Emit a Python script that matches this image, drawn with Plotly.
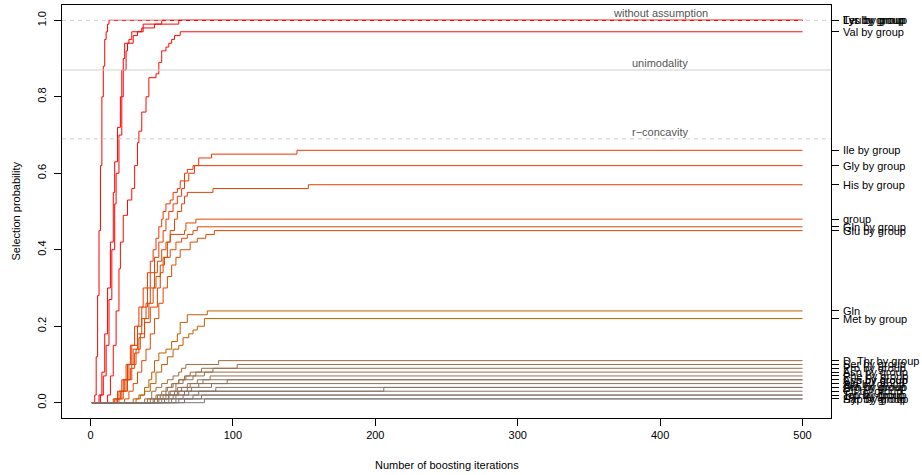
import math
import plotly.graph_objects as go

# ---------------- data ----------------
# each path: list of (iteration, selection probability) at which the value changes
labels = [
    "Leu by group", "Lys by group", "Tyr by group", "Val by group",
    "Ile by group", "Gly by group", "His by group", "group",
    "Gln by group", "Glu by group", "Gln", "Met by group",
    "D_Thr by group", "Ser by group", "Pro by group", "Asn by group",
    "Phe by group", "Asp by group", "Cys by group", "Ala by group",
    "Orn by group", "Arg by group", "Cit by group", "Tau by group",
    "Trp by group", "Hyp by group", "Sar by group",
]

path_leu = [(1, 0), (3, 0.02), (4, 0.12), (5, 0.28), (6, 0.45), (7, 0.62), (8, 0.8),
            (9, 0.88), (10, 0.95), (11, 0.97), (12, 0.99), (13, 1.0)]
path_lys = [(1, 0), (6, 0.02), (8, 0.08), (10, 0.18), (12, 0.3), (14, 0.42), (16, 0.55),
            (17, 0.63), (19, 0.72), (21, 0.8), (22, 0.87), (23, 0.9), (24, 0.94),
            (27, 0.95), (29, 0.97), (36, 0.98), (37, 0.99), (50, 1.0)]
path_tyr = [(1, 0), (7, 0.02), (9, 0.07), (11, 0.15), (13, 0.27), (15, 0.4), (17, 0.52),
            (18, 0.6), (20, 0.7), (22, 0.8), (23, 0.87), (25, 0.92), (26, 0.94),
            (30, 0.96), (33, 0.97), (37, 0.98), (45, 0.99), (62, 1.0)]
path_val = [(1, 0), (12, 0.02), (14, 0.07), (16, 0.15), (18, 0.24), (20, 0.35),
            (21, 0.42), (23, 0.49), (26, 0.53), (29, 0.56), (31, 0.62), (33, 0.68),
            (34, 0.71), (36, 0.76), (39, 0.8), (41, 0.85), (46, 0.86), (48, 0.89),
            (50, 0.92), (53, 0.93), (55, 0.94), (57, 0.95), (59, 0.96), (63, 0.97)]
path_ile = [(1, 0), (16, 0.01), (19, 0.03), (22, 0.06), (25, 0.1), (28, 0.15), (31, 0.2),
            (34, 0.25), (37, 0.3), (40, 0.34), (42, 0.37), (44, 0.4), (46, 0.43),
            (48, 0.46), (50, 0.48), (51, 0.5), (53, 0.52), (56, 0.53), (58, 0.55),
            (61, 0.56), (63, 0.58), (66, 0.6), (68, 0.61), (72, 0.62), (76, 0.64),
            (85, 0.65), (145, 0.66)]
path_gly = [(1, 0), (17, 0.01), (20, 0.03), (23, 0.06), (26, 0.1), (29, 0.15), (33, 0.2),
            (36, 0.25), (40, 0.3), (42, 0.34), (45, 0.38), (48, 0.42), (51, 0.45),
            (53, 0.48), (55, 0.5), (58, 0.52), (61, 0.54), (64, 0.56), (66, 0.58),
            (69, 0.6), (73, 0.62)]
path_his = [(1, 0), (19, 0.01), (22, 0.03), (25, 0.06), (28, 0.09), (31, 0.13), (34, 0.17),
            (38, 0.21), (42, 0.25), (47, 0.3), (49, 0.34), (51, 0.38), (54, 0.42),
            (56, 0.45), (59, 0.48), (61, 0.5), (64, 0.52), (66, 0.54), (68, 0.55),
            (86, 0.56), (153, 0.57)]
path_group = [(1, 0), (18, 0.01), (21, 0.03), (24, 0.06), (27, 0.1), (30, 0.14), (33, 0.18),
              (36, 0.22), (39, 0.26), (42, 0.3), (45, 0.34), (47, 0.37), (50, 0.4),
              (53, 0.42), (56, 0.44), (66, 0.45), (67, 0.47), (74, 0.48)]
path_glnbg = [(1, 0), (20, 0.01), (23, 0.03), (26, 0.06), (29, 0.1), (32, 0.14), (35, 0.18),
              (38, 0.22), (41, 0.26), (44, 0.3), (46, 0.33), (49, 0.36), (52, 0.38),
              (56, 0.4), (60, 0.42), (64, 0.43), (68, 0.44), (72, 0.45), (75, 0.46)]
path_glu = [(1, 0), (24, 0.01), (27, 0.03), (30, 0.05), (33, 0.08), (36, 0.11), (39, 0.14),
            (42, 0.18), (45, 0.22), (48, 0.26), (51, 0.3), (54, 0.33), (57, 0.36),
            (60, 0.38), (63, 0.4), (70, 0.42), (75, 0.43), (81, 0.44), (87, 0.45)]
path_gln = [(1, 0), (32, 0.01), (35, 0.02), (38, 0.04), (41, 0.06), (43, 0.08), (45, 0.11),
            (48, 0.13), (53, 0.14), (57, 0.16), (61, 0.18), (63, 0.21), (68, 0.23),
            (82, 0.24)]
path_met = [(1, 0), (30, 0.01), (34, 0.02), (38, 0.03), (42, 0.05), (46, 0.08), (50, 0.1),
            (54, 0.12), (58, 0.14), (62, 0.15), (65, 0.17), (69, 0.18), (72, 0.19),
            (75, 0.2), (80, 0.22)]
path_dthr = [(1, 0), (38, 0.01), (43, 0.03), (46, 0.04), (50, 0.05), (54, 0.06), (58, 0.07),
             (62, 0.08), (64, 0.09), (67, 0.1), (90, 0.11)]
path_ser = [(1, 0), (40, 0.01), (46, 0.02), (50, 0.03), (54, 0.04), (58, 0.05), (62, 0.06),
            (66, 0.07), (70, 0.08), (78, 0.09), (103, 0.1)]
path_pro = [(1, 0), (42, 0.01), (47, 0.02), (53, 0.04), (57, 0.05), (62, 0.06), (67, 0.07),
            (74, 0.08), (86, 0.09)]
path_asn = [(1, 0), (44, 0.01), (49, 0.02), (55, 0.03), (60, 0.05), (65, 0.06), (72, 0.07),
            (80, 0.08)]
path_phe = [(1, 0), (45, 0.01), (51, 0.02), (56, 0.03), (61, 0.04), (68, 0.05), (75, 0.06),
            (84, 0.07)]
path_asp = [(1, 0), (47, 0.01), (53, 0.02), (59, 0.03), (64, 0.04), (70, 0.05), (79, 0.06)]
path_cys = [(1, 0), (50, 0.01), (55, 0.02), (62, 0.03), (68, 0.04), (76, 0.05), (96, 0.06)]
path_ala = [(1, 0), (48, 0.01), (55, 0.02), (61, 0.03), (71, 0.04), (85, 0.05)]
path_orn = [(1, 0), (52, 0.01), (58, 0.02), (66, 0.03), (88, 0.04)]
path_arg = [(1, 0), (55, 0.01), (60, 0.02), (69, 0.03), (206, 0.04)]
path_cit = [(1, 0), (57, 0.01), (65, 0.02), (76, 0.03)]
path_tau = [(1, 0), (60, 0.01), (72, 0.02)]
path_trp = [(1, 0), (62, 0.01), (78, 0.02)]
path_hyp = [(1, 0), (66, 0.01)]
path_sar = [(1, 0), (80, 0.01)]

paths = [path_leu, path_lys, path_tyr, path_val, path_ile, path_gly, path_his, path_group,
         path_glnbg, path_glu, path_gln, path_met, path_dthr, path_ser, path_pro, path_asn,
         path_phe, path_asp, path_cys, path_ala, path_orn, path_arg, path_cit, path_tau,
         path_trp, path_hyp, path_sar]

n_iter = 500
cutoffs = [1.0, 0.87, 0.69]
cutoff_labels = ["without assumption", "unimodality", "r\u2212concavity"]
cutoff_dash = ["4px,4px", "solid", "4px,4px"]
x_ticks = [0, 100, 200, 300, 400, 500]
y_ticks = [0.0, 0.2, 0.4, 0.6, 0.8, 1.0]


# ---------------- colours: hcl(h=40, l=50, c = max/max(max)*490) as in stabs ----------------
def hcl_hex(h, c, l):
    WY, Wu, Wv = 100.0, 0.1978398, 0.4683363
    hr = math.radians(h)
    U, V = c * math.cos(hr), c * math.sin(hr)
    Y = WY * (((l + 16) / 116) ** 3 if l > 7.999592 else l / 903.3)
    u = U / (13 * l) + Wu
    v = V / (13 * l) + Wv
    X = 9.0 * Y * u / (4 * v)
    Z = -X / 3 - 5 * Y + 3 * Y / v

    def g(t):
        return 1.055 * t ** (1 / 2.4) - 0.055 if t > 0.00304 else 12.92 * t

    r = g((3.240479 * X - 1.537150 * Y - 0.498535 * Z) / WY)
    gg = g((-0.969256 * X + 1.875992 * Y + 0.041556 * Z) / WY)
    b = g((0.055648 * X - 0.204043 * Y + 1.057311 * Z) / WY)
    cl = [min(1.0, max(0.0, float(t))) for t in (r, gg, b)]
    return "#%02x%02x%02x" % tuple(int(round(t * 255)) for t in cl)


finals = [p[-1][1] for p in paths]
mx = max(finals)
colors = [hcl_hex(40, f / mx * 490, 50) for f in finals]

FONT = "Liberation Sans, Arial, sans-serif"

fig = go.Figure()
for lab, p, col in zip(labels, paths, colors):
    xs = [pt[0] for pt in p] + [n_iter]
    ys = [pt[1] for pt in p] + [p[-1][1]]
    fig.add_trace(go.Scatter(x=xs, y=ys, mode="lines", line=dict(color=col, width=1, shape="hv"),
                             name=lab, showlegend=False, hoverinfo="name+y"))

# invisible trace so the right axis (tick marks at final values) is drawn
fig.add_trace(go.Scatter(x=[250], y=[0.5], yaxis="y2", mode="markers",
                         marker=dict(opacity=0, size=1), showlegend=False, hoverinfo="skip"))

for yv, txt, dsh in zip(cutoffs, cutoff_labels, cutoff_dash):
    fig.add_shape(type="line", xref="paper", x0=0, x1=1, yref="y", y0=yv, y1=yv,
                  line=dict(color="#cfcfcf", width=1, dash=dsh), layer="above")
    fig.add_annotation(x=400, y=yv, xref="x", yref="y", text=txt, showarrow=False,
                       yanchor="middle", yshift=7, font=dict(family=FONT, size=11, color="#555555"))

# right-hand labels at the final selection probabilities
for lab, f in zip(labels, finals):
    fig.add_annotation(x=1, y=f, xref="paper", yref="y", text=lab, showarrow=False,
                       xanchor="left", yanchor="middle", xshift=10,
                       font=dict(family=FONT, size=11, color="black"))

fig.add_annotation(text="Number of boosting iterations", xref="paper", yref="paper", x=0.5,
                   y=-0.1138, showarrow=False, yanchor="middle",
                   font=dict(family=FONT, size=11, color="black"))
fig.add_annotation(text="Selection probability", xref="paper", yref="paper", x=-0.0611,
                   y=0.5, showarrow=False, textangle=-90, xanchor="center",
                   font=dict(family=FONT, size=11, color="black"))

fig.update_layout(
    width=922, height=475,
    margin=dict(l=62, r=91, t=5, b=57),
    plot_bgcolor="white", paper_bgcolor="white",
    font=dict(family=FONT, size=11, color="black"),
    xaxis=dict(range=[-20, 520], tickvals=x_ticks, ticktext=[str(v) for v in x_ticks],
               ticks="outside", ticklen=7, tickcolor="black", showgrid=False, zeroline=False,
               showline=True, linecolor="black", linewidth=1, mirror=True,
               tickfont=dict(family=FONT, size=11)),
    yaxis=dict(range=[-0.04, 1.04], tickvals=y_ticks, ticktext=["%.1f" % v for v in y_ticks],
               ticks="outside", ticklen=7, tickcolor="black", showgrid=False, zeroline=False,
               showline=True, linecolor="black", linewidth=1, mirror=True, tickangle=-90,
               ticklabelstandoff=4, tickfont=dict(family=FONT, size=11)),
    yaxis2=dict(range=[-0.04, 1.04], overlaying="y", side="right", tickvals=finals,
                ticktext=["" for _ in finals], ticks="outside", ticklen=7, tickcolor="black",
                showgrid=False, zeroline=False, showline=False),
)

fig.write_html("out.html")
